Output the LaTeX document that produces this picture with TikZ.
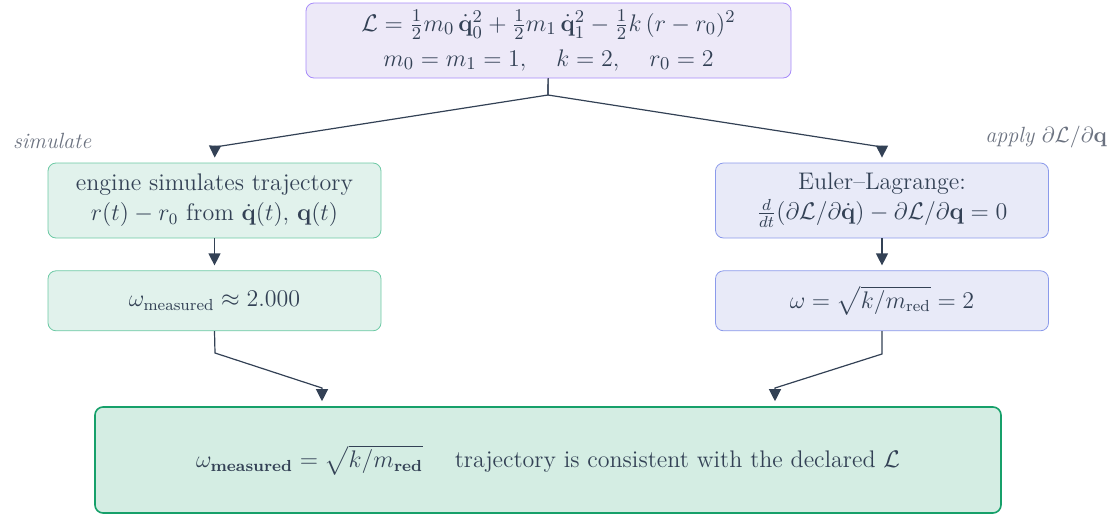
\documentclass[tikz,border=0pt]{standalone}
\usepackage{amsmath,amssymb}
\usepackage{xcolor}
\usepackage{tikz}
\usetikzlibrary{arrows.meta, positioning, calc}
\definecolor{ink}{HTML}{334155}
\definecolor{labgray}{HTML}{6B7280}
\definecolor{lagfill}{HTML}{EDE9F8}
\definecolor{lagdraw}{HTML}{A78BFA}
\definecolor{simfill}{HTML}{E1F2EC}
\definecolor{simdraw}{HTML}{6CC9A4}
\definecolor{elfill}{HTML}{E8EAF8}
\definecolor{eldraw}{HTML}{8B9AEB}
\definecolor{resfill}{HTML}{D4EDE3}
\definecolor{resdraw}{HTML}{16A06A}
\tikzset{
  box/.style={rectangle, rounded corners=4pt, draw, align=center, inner sep=2pt,
              text=ink, font=\fontsize{12}{15}\selectfont},
  lagbox/.style={box, fill=lagfill, draw=lagdraw, minimum width=242.5pt, minimum height=37.5pt,
                 font=\fontsize{13}{17.5}\selectfont},
  simbox/.style={box, fill=simfill, draw=simdraw, minimum width=166.5pt, minimum height=37.5pt},
  elbox/.style={box, fill=elfill, draw=eldraw, minimum width=166.5pt, minimum height=37.5pt},
  smallbox/.style={minimum height=30pt},
  resbox/.style={box, fill=resfill, draw=resdraw, line width=0.8pt, minimum width=453pt, minimum height=53pt},
  arrow/.style={-{Triangle[length=6pt, width=6pt]}, draw=ink, line width=0.6pt, shorten >=2.5pt},
  label/.style={font=\fontsize{11}{12}\selectfont\itshape, text=labgray},
}
\begin{document}
\begin{tikzpicture}[x=0.5pt, y=-0.5pt]
  \useasboundingbox (0,0) rectangle (1116,515);

  %% Lagrangian
  \node[lagbox] (lag) at (548.5,40.5)
    {$\mathcal{L} = \tfrac{1}{2}m_0\,\dot{\mathbf{q}}_0^2 + \tfrac{1}{2}m_1\,\dot{\mathbf{q}}_1^2 - \tfrac{1}{2}k\,(r-r_0)^2$\\
     $m_0 = m_1 = 1,\quad k = 2,\quad r_0 = 2$};

  %% Simulation path
  \node[simbox] (sim) at (214.5,200.5)
    {engine simulates trajectory\\$r(t)-r_0$ from $\dot{\mathbf{q}}(t)$, $\mathbf{q}(t)$};
  \node[simbox, smallbox, below=16pt of sim] (meas)
    {$\omega_{\text{measured}} \approx 2.000$};

  %% Euler--Lagrange path
  \node[elbox] (el) at (882,200.5)
    {Euler--Lagrange:\\$\frac{d}{dt}(\partial\mathcal{L}/\partial\dot{\mathbf{q}}) - \partial\mathcal{L}/\partial\mathbf{q} = 0$};
  \node[elbox, smallbox, below=16pt of el] (omega)
    {$\omega = \sqrt{k/m_{\text{red}}} = 2$};

  %% Result
  \node[resbox] (res) at (548,460)
    {$\omega_{\textbf{measured}} = \sqrt{k/m_{\textbf{red}}}$\quad\ trajectory is consistent with the declared $\mathcal{L}$};

  \node[label, anchor=west] (simlab) at (6,141) {simulate};
  \node[label, anchor=east] (ellab) at (1114,137) {apply $\partial\mathcal{L}/\partial\mathbf{q}$};

  %% bends
  \coordinate (fork) at (548,95);
  \coordinate (simin) at (215,147);
  \coordinate (elin) at (882,147);
  \coordinate (measout) at (215,353);
  \coordinate (resinl) at (322,388);
  \coordinate (omegaout) at (882,354);
  \coordinate (resinr) at (775,388);

  \draw[arrow] (lag) -- (fork) -- (simin) -- (sim.north);
  \draw[arrow] (lag) -- (fork) -- (elin) -- (el.north);
  \draw[arrow] (sim) -- (meas);
  \draw[arrow] (el) -- (omega);
  \draw[arrow] (meas.south) -- (measout) -- (resinl) -- (resinl |- res.north);
  \draw[arrow] (omega.south) -- (omegaout) -- (resinr) -- (resinr |- res.north);

\end{tikzpicture}
\end{document}
